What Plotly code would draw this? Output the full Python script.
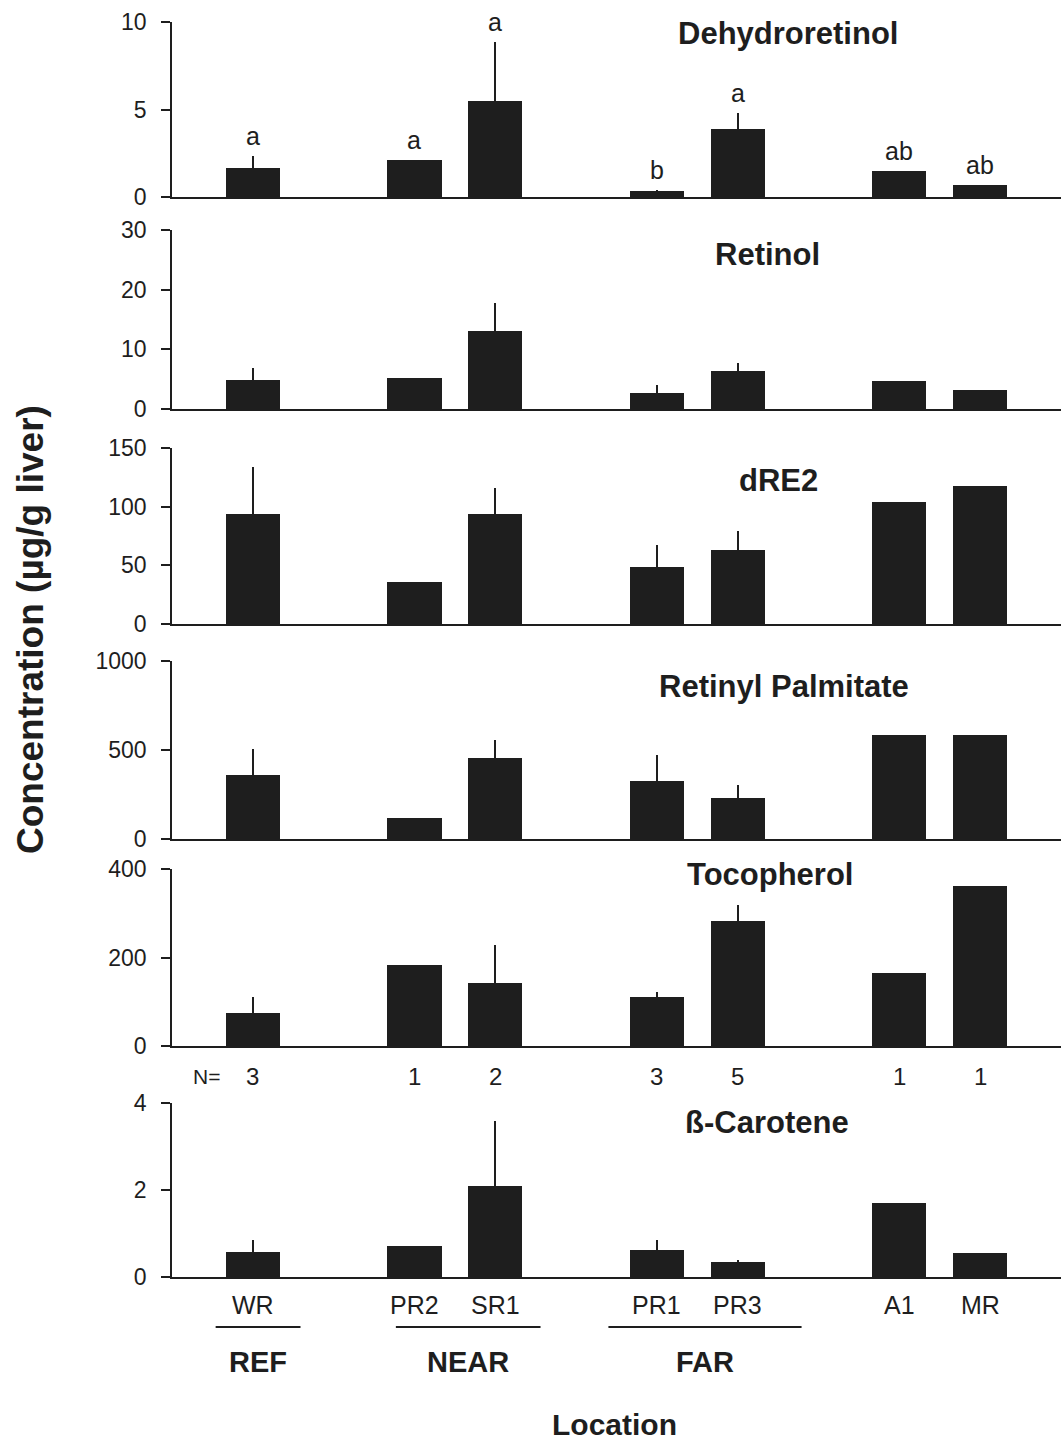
import plotly.graph_objects as go

# ---------------- data ----------------
sites = ["WR", "PR2", "SR1", "PR1", "PR3", "A1", "MR"]
site_pos = [0, 2, 3, 5, 6, 8, 9]
n_values = [3, 1, 2, 3, 5, 1, 1]

dehydro = [1.65, 2.1, 5.5, 0.35, 3.9, 1.5, 0.7]
dehydro_err = [0.7, 0, 3.35, 0.05, 0.9, 0, 0]
dehydro_letters = ["a", "a", "a", "b", "a", "ab", "ab"]

retinol = [4.9, 5.2, 13.1, 2.7, 6.4, 4.7, 3.2]
retinol_err = [2.0, 0, 4.7, 1.3, 1.3, 0, 0]

dre2 = [94, 36, 94, 49, 63, 104, 118]
dre2_err = [40, 0, 22, 18, 16, 0, 0]

palmitate = [360, 118, 455, 326, 230, 584, 584]
palmitate_err = [146, 0, 101, 146, 73, 0, 0]

tocopherol = [75, 183, 142, 111, 282, 165, 362]
tocopherol_err = [36, 0, 86, 11, 37, 0, 0]

carotene = [0.57, 0.71, 2.09, 0.62, 0.34, 1.70, 0.55]
carotene_err = [0.28, 0, 1.5, 0.23, 0.05, 0, 0]

panel_titles = ["Dehydroretinol", "Retinol", "dRE2", "Retinyl Palmitate",
                "Tocopherol", "ß-Carotene"]
panel_ranges = [10, 30, 150, 1000, 400, 4]
panel_ticks = [[0, 5, 10], [0, 10, 20, 30], [0, 50, 100, 150],
               [0, 500, 1000], [0, 200, 400], [0, 2, 4]]

groups = ["REF", "NEAR", "FAR"]
group_members = [["WR"], ["PR2", "SR1"], ["PR1", "PR3"]]
# how far each group's underline reaches beyond its first / last site
group_pad_left = [0.46, 0.23, 0.60]
group_pad_right = [0.59, 0.56, 0.79]

# ---------------- layout helpers ----------------
W, H = 1061, 1443
L = 172
FONT = "Liberation Sans, Arial, Helvetica, sans-serif"
INK = "#1e1e1e"


def py(p):
    return 1 - p / H


def px_x(p):
    return (p - L) / (W - L)


# pixel extents of each panel (top, bottom)
panel_px = [(22, 197), (230, 409), (448, 624), (661, 839), (869, 1046), (1103, 1277)]
title_px = [(788, 33), (767, 255), (778, 480), (784, 686), (770, 874), (767, 1122)]

series = [(dehydro, dehydro_err), (retinol, retinol_err), (dre2, dre2_err),
          (palmitate, palmitate_err), (tocopherol, tocopherol_err),
          (carotene, carotene_err)]

fig = go.Figure()
annotations = []
shapes = []
layout = dict(
    width=W, height=H,
    margin=dict(l=L, r=0, t=0, b=0, autoexpand=False),
    paper_bgcolor="white", plot_bgcolor="white",
    showlegend=False,
    font=dict(family=FONT, color=INK, size=22),
    bargap=0,
)

for i, ((vals, errs), rng, ticks, (ptop, pbot)) in enumerate(
        zip(series, panel_ranges, panel_ticks, panel_px)):
    k = i + 1
    xa = "x" if k == 1 else f"x{k}"
    ya = "y" if k == 1 else f"y{k}"
    fig.add_trace(go.Bar(
        x=site_pos, y=vals, width=0.67, xaxis=xa, yaxis=ya,
        marker=dict(color=INK, line=dict(width=0)),
        error_y=dict(type="data", symmetric=False, array=errs,
                     arrayminus=[0] * len(errs), width=0, thickness=1.6,
                     color=INK),
    ))
    xkey = "xaxis" if k == 1 else f"xaxis{k}"
    ykey = "yaxis" if k == 1 else f"yaxis{k}"
    layout[xkey] = dict(
        domain=[0, 1], anchor=ya, range=[-1, 10], automargin=False,
        showline=True, linewidth=2, linecolor=INK,
        showgrid=False, zeroline=False, showticklabels=False, ticks="",
    )
    layout[ykey] = dict(
        domain=[py(pbot), py(ptop)], anchor=xa, range=[0, rng],
        automargin=False,
        tickvals=ticks, ticks="outside", ticklen=9, tickwidth=1.5,
        tickcolor=INK, showline=True, linewidth=1.5, linecolor=INK,
        showgrid=False, zeroline=False, ticklabelstandoff=10,
        tickfont=dict(size=23, family=FONT, color=INK),
    )
    tx, ty = title_px[i]
    annotations.append(dict(
        text=f"<b>{panel_titles[i]}</b>", xref="paper", yref="paper",
        x=px_x(tx), y=py(ty), xanchor="center", yanchor="middle",
        showarrow=False, font=dict(size=31, family=FONT, color=INK)))

# significance letters on the first panel
for pos, v, e, lt in zip(site_pos, dehydro, dehydro_err, dehydro_letters):
    annotations.append(dict(
        text=lt, xref="x", yref="y", x=pos, y=v + e, xanchor="center",
        yanchor="bottom", yshift=4, showarrow=False,
        font=dict(size=25, family=FONT, color=INK)))

# N= row
annotations.append(dict(text="N=", xref="paper", yref="paper", x=px_x(206),
                        y=py(1076), xanchor="center", yanchor="middle",
                        showarrow=False, font=dict(size=21, family=FONT, color=INK)))
for pos, n in zip(site_pos, n_values):
    annotations.append(dict(text=str(n), xref="x5", yref="paper", x=pos,
                            y=py(1076), xanchor="center", yanchor="middle",
                            showarrow=False,
                            font=dict(size=24, family=FONT, color=INK)))

# site labels
for pos, s in zip(site_pos, sites):
    annotations.append(dict(text=s, xref="x6", yref="paper", x=pos,
                            y=py(1305), xanchor="center", yanchor="middle",
                            showarrow=False,
                            font=dict(size=25, family=FONT, color=INK)))

# group underlines and labels
pos_of = dict(zip(sites, site_pos))
for g, members, pl, pr in zip(groups, group_members, group_pad_left, group_pad_right):
    x0 = pos_of[members[0]] - pl
    x1 = pos_of[members[-1]] + pr
    shapes.append(dict(type="line", xref="x6", yref="paper", x0=x0, x1=x1,
                       y0=py(1327), y1=py(1327),
                       line=dict(color=INK, width=2)))
    annotations.append(dict(text=f"<b>{g}</b>", xref="x6", yref="paper",
                            x=(x0 + x1) / 2, y=py(1362), xanchor="center",
                            yanchor="middle", showarrow=False,
                            font=dict(size=29, family=FONT, color=INK)))

# axis titles
annotations.append(dict(text="<b>Location</b>", xref="paper", yref="paper",
                        x=px_x(614), y=py(1424), xanchor="center",
                        yanchor="middle", showarrow=False, borderpad=0,
                        font=dict(size=30, family=FONT, color=INK)))
annotations.append(dict(text="<b>Concentration (µg/g liver)</b>", xref="paper",
                        yref="paper", x=px_x(30), y=py(630), xanchor="center",
                        yanchor="middle", textangle=-90, showarrow=False,
                        font=dict(size=37, family=FONT, color=INK)))

layout["annotations"] = annotations
layout["shapes"] = shapes
fig.update_layout(**layout)
fig.write_html("out.html")
